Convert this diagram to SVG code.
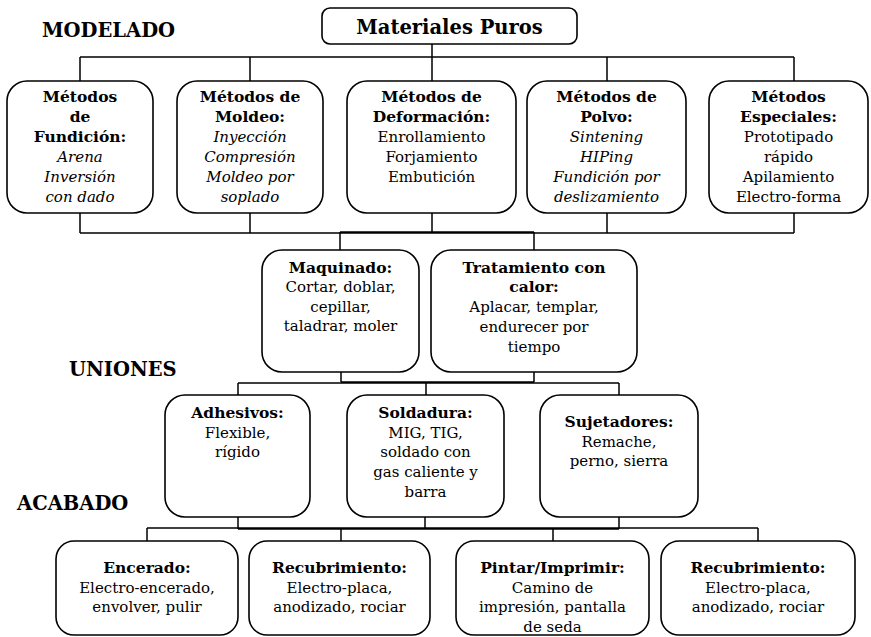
<svg xmlns="http://www.w3.org/2000/svg" width="871" height="637" viewBox="0 0 871 637">
  <style>
    .box { fill: #ffffff; stroke: #000000; stroke-width: 1.6; }
    .wire { fill: none; stroke: #000000; stroke-width: 1.5; }
    text { font-family: "DejaVu Serif", "Liberation Serif", serif; font-size: 15px; fill: #000000; text-anchor: middle; }
    .b { font-weight: bold; font-size: 15.5px; }
    .i { font-style: italic; }
    .stage { font-weight: bold; font-size: 19.5px; text-anchor: start; }
    .root { font-weight: bold; font-size: 19.5px; }
  </style>
  <rect width="871" height="637" fill="#ffffff"/>

  <!-- stage labels -->
  <g id="stage-labels">
    <text class="stage" x="42" y="37">MODELADO</text>
    <text class="stage" x="69" y="376">UNIONES</text>
    <text class="stage" x="17" y="510">ACABADO</text>
  </g>

  <!-- connectors -->
  <g id="connectors" class="wire">
    <path d="M432 44 V57 M80 57 H794 M80 57 V81 M250 57 V81 M432 57 V81 M607 57 V81 M794 57 V81"/>
    <path d="M80 213 V233 M250 213 V233 M432 213 V233 M607 213 V233 M794 213 V233 M80 233 H794 M340 232 H534 M340 232 V250 M534 232 V250"/>
    <path d="M341 372 V382 M534 372 V382 M341 382 H534 M238 383 H619 M238 383 V395 M426 383 V395 M619 383 V395"/>
    <path d="M238 517 V529 M425 517 V529 M619 517 V529 M238 529 H619 M147 528 H758 M147 528 V541 M341 528 V541 M553 528 V541 M758 528 V541"/>
  </g>

  <g id="materiales-puros">
    <rect class="box" x="322" y="8" width="255" height="36" rx="8"/>
    <text class="root" x="449.5" y="34">Materiales Puros</text>
  </g>

  <!-- moulding methods -->
  <g id="fundicion">
    <rect class="box" x="7" y="81" width="146" height="132" rx="20"/>
    <text class="b" x="80" y="102">Métodos</text>
    <text class="b" x="80" y="122">de</text>
    <text class="b" x="80" y="142">Fundición:</text>
    <text class="i" x="80" y="162">Arena</text>
    <text class="i" x="80" y="182">Inversión</text>
    <text class="i" x="80" y="202">con dado</text>
  </g>
  <g id="moldeo">
    <rect class="box" x="177" y="81" width="146" height="132" rx="20"/>
    <text class="b" x="250" y="102">Métodos de</text>
    <text class="b" x="250" y="122">Moldeo:</text>
    <text class="i" x="250" y="142">Inyección</text>
    <text class="i" x="250" y="162">Compresión</text>
    <text class="i" x="250" y="182">Moldeo por</text>
    <text class="i" x="250" y="202">soplado</text>
  </g>
  <g id="deformacion">
    <rect class="box" x="347" y="81" width="169" height="132" rx="20"/>
    <text class="b" x="431.5" y="102">Métodos de</text>
    <text class="b" x="431.5" y="122">Deformación:</text>
    <text x="431.5" y="142">Enrollamiento</text>
    <text x="431.5" y="162">Forjamiento</text>
    <text x="431.5" y="182">Embutición</text>
  </g>
  <g id="polvo">
    <rect class="box" x="527" y="81" width="159" height="132" rx="20"/>
    <text class="b" x="606.5" y="102">Métodos de</text>
    <text class="b" x="606.5" y="122">Polvo:</text>
    <text class="i" x="606.5" y="142">Sintening</text>
    <text class="i" x="606.5" y="162">HIPing</text>
    <text class="i" x="606.5" y="182">Fundición por</text>
    <text class="i" x="606.5" y="202">deslizamiento</text>
  </g>
  <g id="especiales">
    <rect class="box" x="709" y="81" width="159" height="132" rx="20"/>
    <text class="b" x="788.5" y="102">Métodos</text>
    <text class="b" x="788.5" y="122">Especiales:</text>
    <text x="788.5" y="142">Prototipado</text>
    <text x="788.5" y="162">rápido</text>
    <text x="788.5" y="182">Apilamiento</text>
    <text x="788.5" y="202">Electro-forma</text>
  </g>

  <!-- secondary processing -->
  <g id="maquinado">
    <rect class="box" x="262" y="250" width="157" height="122" rx="20"/>
    <text class="b" x="340.5" y="273">Maquinado:</text>
    <text x="340.5" y="292">Cortar, doblar,</text>
    <text x="340.5" y="312">cepillar,</text>
    <text x="340.5" y="331">taladrar, moler</text>
  </g>
  <g id="tratamiento">
    <rect class="box" x="431" y="250" width="206" height="122" rx="20"/>
    <text class="b" x="534" y="273">Tratamiento con</text>
    <text class="b" x="534" y="292">calor:</text>
    <text x="534" y="312">Aplacar, templar,</text>
    <text x="534" y="332">endurecer por</text>
    <text x="534" y="352">tiempo</text>
  </g>

  <!-- joining -->
  <g id="adhesivos">
    <rect class="box" x="165" y="395" width="145" height="122" rx="20"/>
    <text class="b" x="237.5" y="418">Adhesivos:</text>
    <text x="237.5" y="438">Flexible,</text>
    <text x="237.5" y="457">rígido</text>
  </g>
  <g id="soldadura">
    <rect class="box" x="347" y="395" width="157" height="122" rx="20"/>
    <text class="b" x="425.5" y="418">Soldadura:</text>
    <text x="425.5" y="438">MIG, TIG,</text>
    <text x="425.5" y="457">soldado con</text>
    <text x="425.5" y="477">gas caliente y</text>
    <text x="425.5" y="497">barra</text>
  </g>
  <g id="sujetadores">
    <rect class="box" x="540" y="395" width="158" height="122" rx="20"/>
    <text class="b" x="619" y="427">Sujetadores:</text>
    <text x="619" y="447">Remache,</text>
    <text x="619" y="466">perno, sierra</text>
  </g>

  <!-- finishing -->
  <g id="encerado">
    <rect class="box" x="56" y="541" width="182" height="94" rx="18"/>
    <text class="b" x="147" y="573">Encerado:</text>
    <text x="147" y="593">Electro-encerado,</text>
    <text x="147" y="612">envolver, pulir</text>
  </g>
  <g id="recubrimiento-1">
    <rect class="box" x="249" y="541" width="181" height="94" rx="18"/>
    <text class="b" x="339.5" y="573">Recubrimiento:</text>
    <text x="339.5" y="593">Electro-placa,</text>
    <text x="339.5" y="612">anodizado, rociar</text>
  </g>
  <g id="pintar">
    <rect class="box" x="456" y="541" width="193" height="94" rx="18"/>
    <text class="b" x="552.5" y="573">Pintar/Imprimir:</text>
    <text x="552.5" y="593">Camino de</text>
    <text x="552.5" y="612">impresión, pantalla</text>
    <text x="552.5" y="632">de seda</text>
  </g>
  <g id="recubrimiento-2">
    <rect class="box" x="661" y="541" width="194" height="94" rx="18"/>
    <text class="b" x="758" y="573">Recubrimiento:</text>
    <text x="758" y="593">Electro-placa,</text>
    <text x="758" y="612">anodizado, rociar</text>
  </g>
</svg>
